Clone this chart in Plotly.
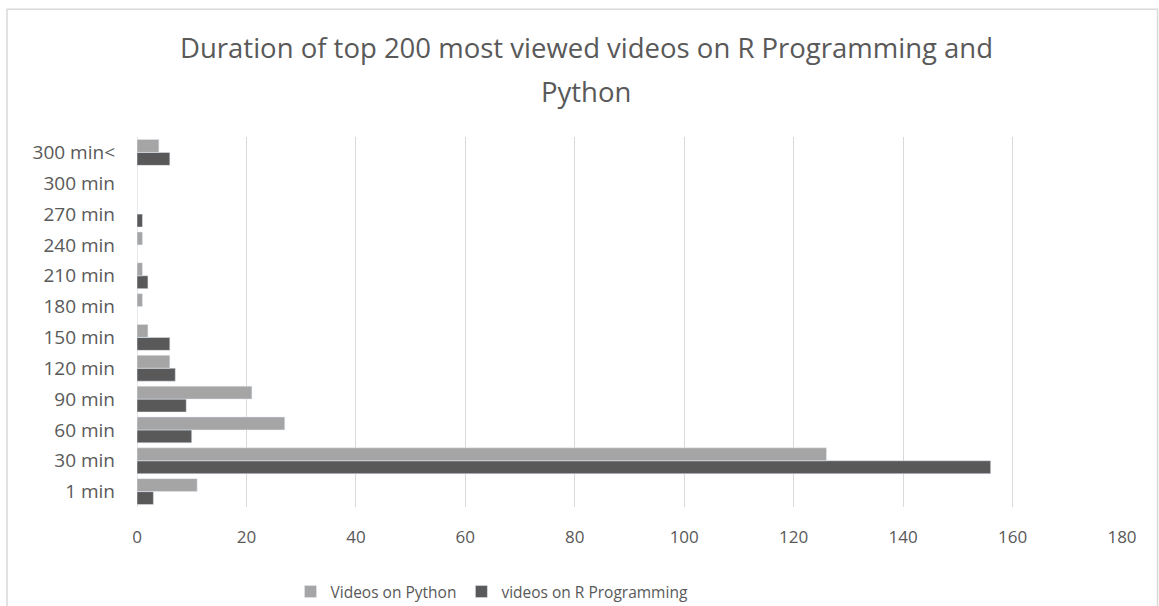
import plotly.graph_objects as go

categories = ["1 min", "30 min", "60 min", "90 min", "120 min", "150 min",
              "180 min", "210 min", "240 min", "270 min", "300 min", "300 min<"]
python_vals = [11, 126, 27, 21, 6, 2, 1, 1, 1, 0, 0, 4]
r_vals = [3, 156, 10, 9, 7, 6, 0, 2, 0, 1, 0, 6]
x_ticks = [0, 20, 40, 60, 80, 100, 120, 140, 160, 180]

FONT = "Open Sans"
TXT = "#595959"

fig = go.Figure()
fig.add_trace(go.Bar(y=categories, x=r_vals, orientation="h",
                     name="videos on R Programming", marker_color="#595959",
                     legendrank=2))
fig.add_trace(go.Bar(y=categories, x=python_vals, orientation="h",
                     name="Videos on Python", marker_color="#a5a5a5",
                     legendrank=1))

W, H = 1159, 606
ml, mr, mt, mb = 137, 37, 136.5, 98.5
pw, ph = W - ml - mr, H - mt - mb

def px(x):
    return (x - ml) / pw

def py(y):
    return (H - mb - y) / ph

fig.update_layout(
    width=W, height=H,
    margin=dict(l=ml, r=mr, t=mt, b=mb, pad=0, autoexpand=False),
    paper_bgcolor="white", plot_bgcolor="white",
    barmode="group", bargap=0.16, bargroupgap=0,
    font=dict(family=FONT, color=TXT, size=14),
    showlegend=True,
    legend=dict(orientation="h", xref="container", yref="container",
                x=492 / W, y=(H - 592) / H, xanchor="center",
                yanchor="middle", font=dict(size=15.5, color=TXT),
                itemwidth=30, traceorder="normal"),
    xaxis=dict(range=[0, 180], tickvals=x_ticks, showgrid=True,
               gridcolor="#d9d9d9", gridwidth=1, zeroline=False,
               showline=False, ticks="", ticklabelstandoff=18,
               automargin=False,
               tickfont=dict(size=17, color=TXT), fixedrange=True),
    yaxis=dict(type="category", categoryorder="array", categoryarray=categories,
               showgrid=False, zeroline=False, showline=False, ticks="",
               ticklabelstandoff=21, automargin=False,
               tickfont=dict(size=19, color=TXT),
               fixedrange=True),
    shapes=[
        dict(type="rect", xref="paper", yref="paper",
             x0=px(7), x1=px(1157.5), y0=py(610), y1=py(8.5),
             line=dict(color="#d9d9d9", width=1.5), fillcolor="rgba(0,0,0,0)",
             layer="below"),
        dict(type="line", xref="x", yref="paper", x0=0, x1=0, y0=0, y1=1,
             line=dict(color="#d0d0d0", width=1), layer="below"),
    ],
    annotations=[
        dict(text="Duration of top 200 most viewed videos on R Programming and",
             xref="paper", yref="paper", x=px(586), y=py(47),
             xanchor="center", yanchor="middle", showarrow=False,
             font=dict(size=27.5, color=TXT, family=FONT)),
        dict(text="Python", xref="paper", yref="paper", x=px(586), y=py(91),
             xanchor="center", yanchor="middle", showarrow=False,
             font=dict(size=27.5, color=TXT, family=FONT)),
    ],
)

fig.write_html("out.html")
